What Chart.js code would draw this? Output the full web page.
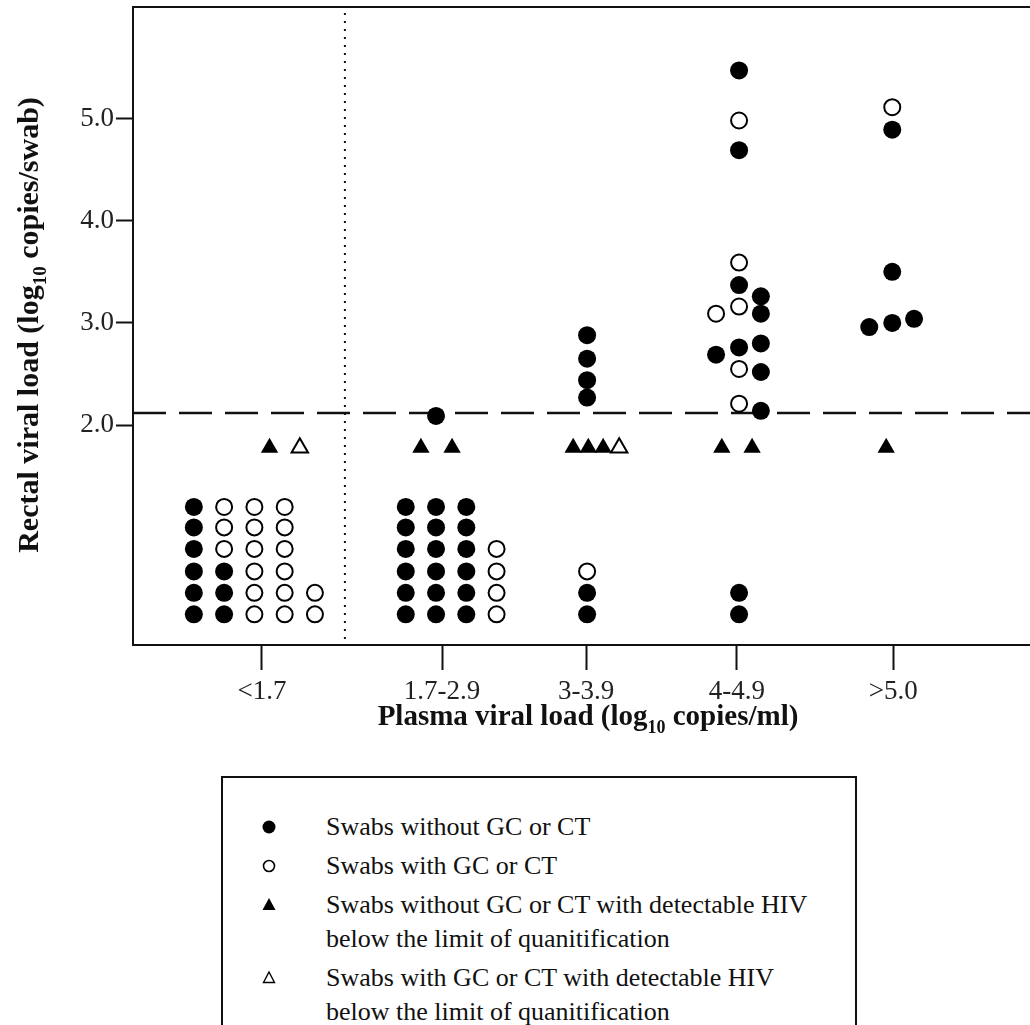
<!DOCTYPE html>
<html>
<head>
<meta charset="utf-8">
<title>Rectal vs plasma viral load</title>
<script src="https://cdn.jsdelivr.net/npm/chart.js@4.4.0/dist/chart.umd.min.js"></script>
<style>
    body { margin: 0; background: #fff; font-family: "Liberation Serif", "Times New Roman", serif; }
    #wrap { position: relative; width: 1030px; height: 1025px; overflow: hidden; }
    #chartBox { position: absolute; left: 0; top: 0; width: 1030px; height: 760px; }
    #legend {
        position: absolute; left: 221px; top: 776px; width: 636px; height: 320px;
        border: 2px solid #111; box-sizing: border-box; padding-top: 32px;
        color: #111; font-size: 26px;
    }
    .entry { position: relative; padding-left: 103px; line-height: 34px; margin-bottom: 5px; }
    .entry svg { position: absolute; left: 36px; top: 7px; }
</style>
</head>
<body>
<div id="wrap">
    <div id="chartBox"><canvas id="viralChart"></canvas></div>
    <div id="legend">
        <div class="entry"><svg width="20" height="20"><circle cx="10" cy="10" r="6.5" fill="#000"/></svg>Swabs without GC or CT</div>
        <div class="entry"><svg width="20" height="20"><circle cx="10" cy="10" r="5.5" fill="#fff" stroke="#000" stroke-width="1.6"/></svg>Swabs with GC or CT</div>
        <div class="entry"><svg width="20" height="20"><polygon points="10,3 16.5,15 3.5,15" fill="#000"/></svg>Swabs without GC or CT with detectable HIV<br>below the limit of quanitification</div>
        <div class="entry"><svg width="20" height="20"><polygon points="10,4 15.5,14.5 4.5,14.5" fill="#fff" stroke="#000" stroke-width="1.4"/></svg>Swabs with GC or CT with detectable HIV<br>below the limit of quanitification</div>
    </div>
</div>
<script>
// plasma viral load groups and where their ticks sit on the x scale
const categories = ['<1.7', '1.7-2.9', '3-3.9', '4-4.9', '>5.0'];
const categoryX = [4.26, 10.21, 14.97, 19.95, 25.11];
const yTicks = [2, 3, 4, 5];
const quantLimit = 2.12;     // dashed line: limit of quantification
const plasmaSplitX = 7.0;    // dotted divider after the <1.7 group

// each swab: [group index, column offset within group, log10 copies/swab]
const withoutGcCt = [
    [0, -2.25, 0.15], [0, -2.25, 0.36], [0, -2.25, 0.57], [0, -2.25, 0.79], [0, -2.25, 1.0], [0, -2.25, 1.2],
    [0, -1.25, 0.15], [0, -1.25, 0.36], [0, -1.25, 0.57],
    [1, -1.2, 0.15], [1, -1.2, 0.36], [1, -1.2, 0.57], [1, -1.2, 0.79], [1, -1.2, 1.0], [1, -1.2, 1.2],
    [1, -0.2, 0.15], [1, -0.2, 0.36], [1, -0.2, 0.57], [1, -0.2, 0.79], [1, -0.2, 1.0], [1, -0.2, 1.2],
    [1, 0.8, 0.15], [1, 0.8, 0.36], [1, 0.8, 0.57], [1, 0.8, 0.79], [1, 0.8, 1.0], [1, 0.8, 1.2],
    [1, -0.2, 2.09],
    [2, 0.03, 0.15], [2, 0.03, 0.36], [2, 0.03, 2.27], [2, 0.03, 2.44], [2, 0.03, 2.65], [2, 0.03, 2.88],
    [3, 0.07, 0.15], [3, 0.07, 0.36], [3, 0.07, 2.76], [3, 0.07, 3.37], [3, 0.07, 4.69], [3, 0.07, 5.47],
    [3, -0.69, 2.69],
    [3, 0.79, 2.14], [3, 0.79, 2.52], [3, 0.79, 2.8], [3, 0.79, 3.09], [3, 0.79, 3.26],
    [4, -0.03, 4.89], [4, -0.03, 3.5], [4, -0.03, 3.0], [4, -0.79, 2.96], [4, 0.69, 3.04]
];
const withGcCt = [
    [0, -1.25, 0.79], [0, -1.25, 1.0], [0, -1.25, 1.2],
    [0, -0.25, 0.15], [0, -0.25, 0.36], [0, -0.25, 0.57], [0, -0.25, 0.79], [0, -0.25, 1.0], [0, -0.25, 1.2],
    [0, 0.75, 0.15], [0, 0.75, 0.36], [0, 0.75, 0.57], [0, 0.75, 0.79], [0, 0.75, 1.0], [0, 0.75, 1.2],
    [0, 1.75, 0.15], [0, 1.75, 0.36],
    [1, 1.8, 0.15], [1, 1.8, 0.36], [1, 1.8, 0.57], [1, 1.8, 0.79],
    [2, 0.03, 0.57],
    [3, 0.07, 2.21], [3, 0.07, 2.55], [3, 0.07, 3.16], [3, 0.07, 3.59], [3, 0.07, 4.98],
    [3, -0.69, 3.09],
    [4, -0.03, 5.11]
];
const withoutGcCtBlq = [
    [0, 0.25, 1.78],
    [1, -0.7, 1.78], [1, 0.33, 1.78],
    [2, -0.43, 1.78], [2, 0.07, 1.78], [2, 0.56, 1.78],
    [3, -0.5, 1.78], [3, 0.5, 1.78],
    [4, -0.23, 1.78]
];
const withGcCtBlq = [
    [0, 1.25, 1.78],
    [2, 1.09, 1.78]
];

const SERIF = '"Liberation Serif", "Times New Roman", serif';

function toPoints(rows) {
    return rows.map(r => ({ x: categoryX[r[0]] + r[1], y: r[2] }));
}

// bold title with a "10" subscript, centred on the current origin
function drawLogTitle(ctx, before, after, size) {
    const subSize = Math.round(size * 0.62);
    ctx.font = 'bold ' + size + 'px ' + SERIF;
    const w1 = ctx.measureText(before).width;
    const w3 = ctx.measureText(after).width;
    ctx.font = 'bold ' + subSize + 'px ' + SERIF;
    const w2 = ctx.measureText('10').width;
    let x = -(w1 + w2 + w3) / 2;
    ctx.textAlign = 'left';
    ctx.textBaseline = 'alphabetic';
    const base = size * 0.35;
    ctx.font = 'bold ' + size + 'px ' + SERIF;
    ctx.fillText(before, x, base);
    x += w1;
    ctx.font = 'bold ' + subSize + 'px ' + SERIF;
    ctx.fillText('10', x, base + size * 0.28);
    x += w2;
    ctx.font = 'bold ' + size + 'px ' + SERIF;
    ctx.fillText(after, x, base);
}

const decorations = {
    id: 'decorations',
    beforeDatasetsDraw(chart) {
        const { ctx, chartArea: a, scales: { x, y } } = chart;
        ctx.save();
        ctx.strokeStyle = '#111';
        // limit of quantification
        ctx.lineWidth = 2.5;
        ctx.setLineDash([33, 13]);
        const yq = y.getPixelForValue(quantLimit);
        ctx.beginPath();
        ctx.moveTo(a.left, yq);
        ctx.lineTo(a.right, yq);
        ctx.stroke();
        // divider between undetectable plasma and the rest
        ctx.lineWidth = 2;
        ctx.setLineDash([2, 6]);
        const xs = x.getPixelForValue(plasmaSplitX);
        ctx.beginPath();
        ctx.moveTo(xs, a.top + 6);
        ctx.lineTo(xs, a.bottom - 5);
        ctx.stroke();
        ctx.restore();
    },
    afterDraw(chart) {
        const { ctx, chartArea: a } = chart;
        ctx.save();
        // top frame line
        ctx.strokeStyle = '#111';
        ctx.lineWidth = 2;
        ctx.beginPath();
        ctx.moveTo(a.left - 1, a.top);
        ctx.lineTo(a.right, a.top);
        ctx.stroke();
        ctx.fillStyle = '#111';
        ctx.save();
        ctx.translate(588, 715);
        drawLogTitle(ctx, 'Plasma viral load (log', ' copies/ml)', 29);
        ctx.restore();
        ctx.save();
        ctx.translate(27, 325);
        ctx.rotate(-Math.PI / 2);
        drawLogTitle(ctx, 'Rectal viral load (log', ' copies/swab)', 30);
        ctx.restore();
        ctx.restore();
    }
};

const ctx = document.getElementById('viralChart').getContext('2d');
const viralChart = new Chart(ctx, {
    type: 'scatter',
    data: {
        datasets: [
            {
                label: 'Swabs with GC or CT with detectable HIV below the limit of quanitification',
                data: toPoints(withGcCtBlq),
                pointStyle: 'triangle', pointRadius: 9.5,
                backgroundColor: '#fff', borderColor: '#000', borderWidth: 2
            },
            {
                label: 'Swabs without GC or CT with detectable HIV below the limit of quanitification',
                data: toPoints(withoutGcCtBlq),
                pointStyle: 'triangle', pointRadius: 10,
                backgroundColor: '#000', borderColor: '#000', borderWidth: 0
            },
            {
                label: 'Swabs with GC or CT',
                data: toPoints(withGcCt),
                pointStyle: 'circle', pointRadius: 8,
                backgroundColor: '#fff', borderColor: '#000', borderWidth: 2
            },
            {
                label: 'Swabs without GC or CT',
                data: toPoints(withoutGcCt),
                pointStyle: 'circle', pointRadius: 9,
                backgroundColor: '#000', borderColor: '#000', borderWidth: 0
            }
        ]
    },
    options: {
        responsive: true,
        maintainAspectRatio: false,
        animation: false,
        layout: { autoPadding: false, padding: { top: 7, right: 0, bottom: 0, left: 0 } },
        plugins: {
            legend: { display: false },
            tooltip: { enabled: false }
        },
        scales: {
            x: {
                type: 'linear',
                min: 0,
                max: 29.63,
                border: { display: true, color: '#111', width: 2 },
                grid: { drawOnChartArea: false, drawTicks: true, tickLength: 25, tickWidth: 2, tickColor: '#111' },
                ticks: {
                    autoSkip: false, maxRotation: 0, padding: 6,
                    color: '#222',
                    font: { family: SERIF, size: 27 },
                    callback: (value, index) => categories[index]
                },
                afterBuildTicks: axis => { axis.ticks = categoryX.map(v => ({ value: v })); },
                afterFit: axis => {
                    axis.height = 115;
                    axis.paddingLeft = 0;
                    axis.paddingRight = 0;
                }
            },
            y: {
                type: 'linear',
                min: -0.15,
                max: 6.09,
                border: { display: true, color: '#111', width: 2 },
                grid: { drawOnChartArea: false, drawTicks: true, tickLength: 17, tickWidth: 2, tickColor: '#111' },
                ticks: {
                    padding: 2,
                    color: '#222',
                    font: { family: SERIF, size: 27 },
                    callback: value => value.toFixed(1)
                },
                afterBuildTicks: axis => { axis.ticks = yTicks.map(v => ({ value: v })); },
                afterFit: axis => {
                    axis.width = 133;
                    axis.paddingTop = 0;
                    axis.paddingBottom = 0;
                }
            }
        }
    },
    plugins: [decorations]
});
</script>
</body>
</html>
